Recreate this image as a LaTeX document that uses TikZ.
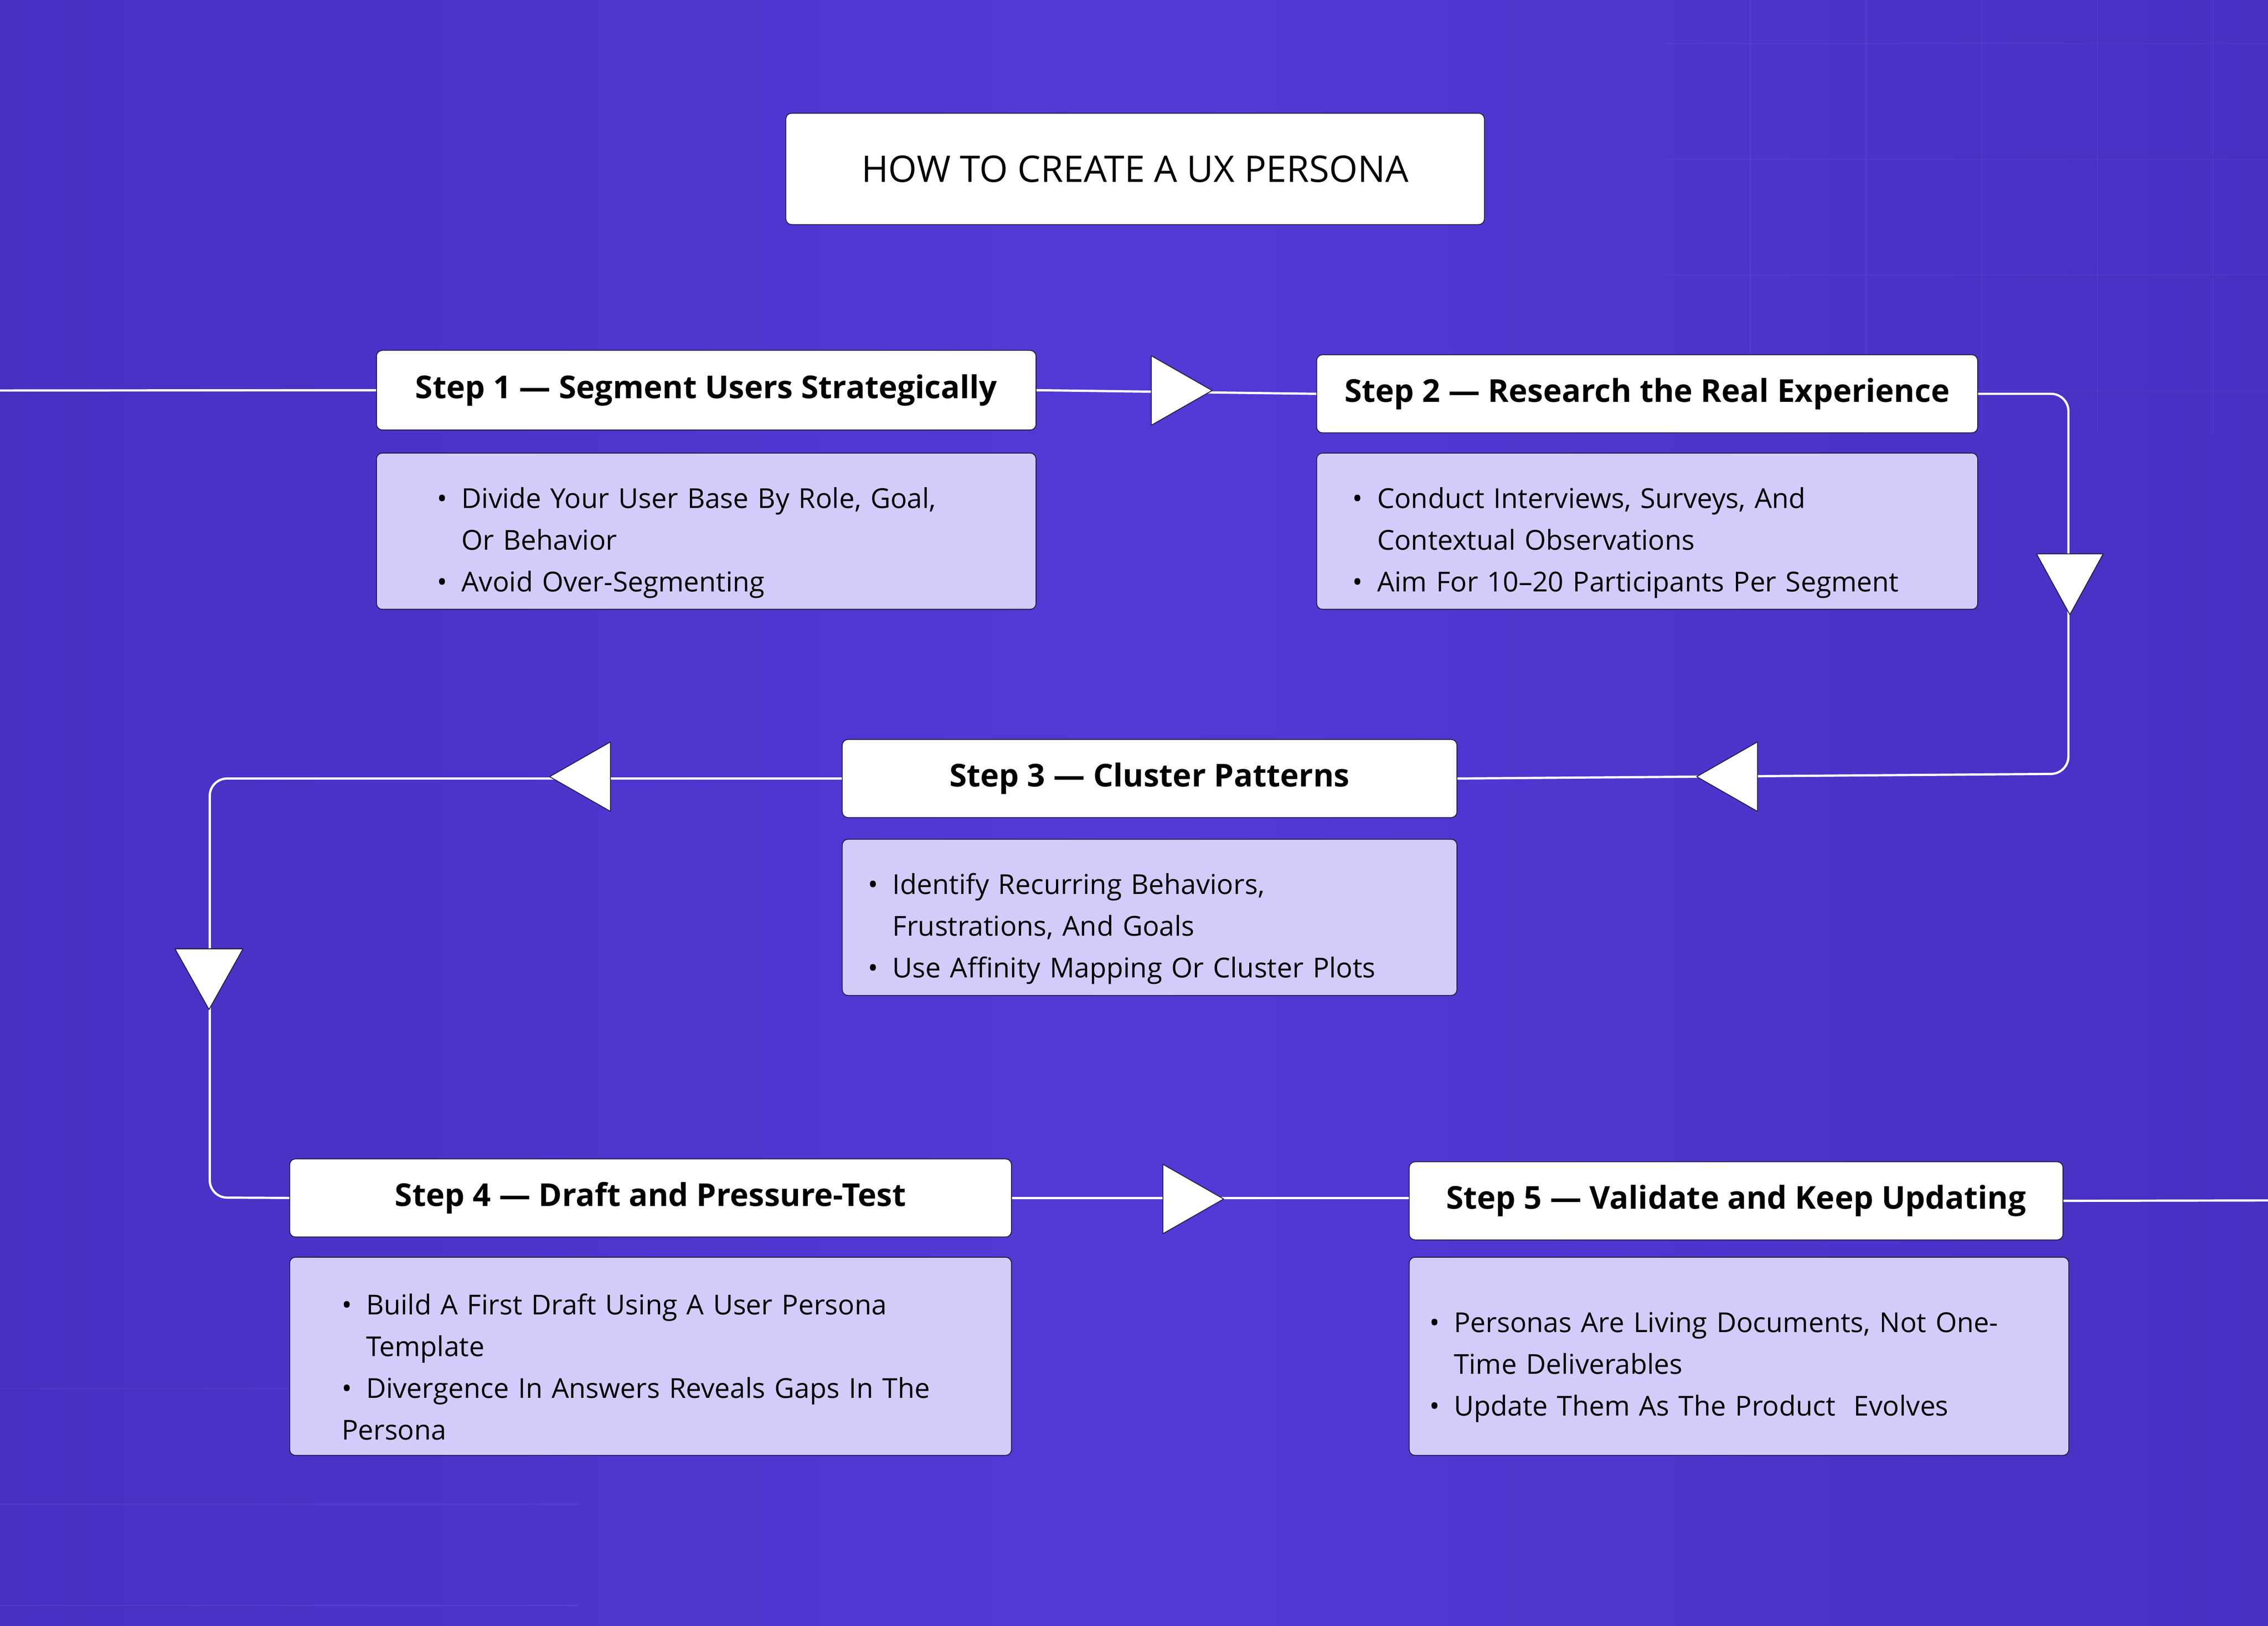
\documentclass[tikz,border=0pt]{standalone}
\usepackage{fontspec}
\setmainfont{Open Sans}
\usetikzlibrary{shapes.geometric}
\definecolor{bgA}{HTML}{4630C2}
\definecolor{bgB}{HTML}{5439D6}
\definecolor{lav}{HTML}{D2CCFB}
\definecolor{edge}{HTML}{1E1A3A}
\newcommand{\bitem}[1]{\par\hangindent=0.85cm\hangafter=1\noindent\makebox[0.85cm][l]{\textbullet}#1}
\tikzset{
  x=0.05cm,y=-0.05cm,
  hdr/.style={draw=edge,line width=0.8pt,fill=white,rounded corners=0.2cm,anchor=north west,inner sep=0pt,font=\fontsize{31}{36}\selectfont\bfseries},
  bdy/.style={draw=edge,line width=0.8pt,fill=lav,rounded corners=0.2cm,anchor=north west,inner sep=0pt},
  btxt/.style={anchor=west,inner sep=0pt,align=left,font=\fontsize{27}{41}\selectfont},
  conn/.style={draw=white,line width=2.2pt,rounded corners=0.6cm},
  tri/.style={fill=white,draw=edge,line width=0.8pt,line join=round}
}
\begin{document}
\begin{tikzpicture}
\useasboundingbox (0,0) rectangle (1568,1124);
\shade[left color=bgA,right color=bgA,middle color=bgB] (0,0) rectangle (1568,1124);
\foreach \x in {1210,1290,1370,1450,1530}{\draw[white,opacity=0.05,line width=1pt] (\x,0)--(\x,300);}
\foreach \y in {30,110,190,270}{\draw[white,opacity=0.05,line width=1pt] (1150,\y)--(1568,\y);}
\foreach \y in {960,1040,1110}{\draw[white,opacity=0.05,line width=1pt] (0,\y)--(400,\y);}
% title
\node[hdr,minimum width=24.15cm,minimum height=3.85cm,font=\fontsize{36}{40}\selectfont] (title) at (543,78) {HOW TO CREATE A UX PERSONA};
% headers
\node[hdr,minimum width=22.8cm,minimum height=2.75cm] (h1) at (260,242) {Step 1 — Segment Users Strategically};
\node[hdr,minimum width=22.85cm,minimum height=2.7cm] (h2) at (910,245) {Step 2 — Research the Real Experience};
\node[hdr,minimum width=21.25cm,minimum height=2.7cm] (h3) at (582,511) {Step 3 — Cluster Patterns};
\node[hdr,minimum width=24.95cm,minimum height=2.7cm] (h4) at (200,801) {Step 4 — Draft and Pressure-Test};
\node[hdr,minimum width=22.6cm,minimum height=2.7cm] (h5) at (974,803) {Step 5 — Validate and Keep Updating};
% bodies
\node[bdy,minimum width=22.8cm,minimum height=5.4cm] (b1) at (260,313) {};
\node[bdy,minimum width=22.85cm,minimum height=5.4cm] (b2) at (910,313) {};
\node[bdy,minimum width=21.25cm,minimum height=5.4cm] (b3) at (582,580) {};
\node[bdy,minimum width=24.95cm,minimum height=6.85cm] (b4) at (200,869) {};
\node[bdy,minimum width=22.8cm,minimum height=6.85cm] (b5) at (974,869) {};
\node[btxt,text width=20cm] (t1) at (302,368) {\bitem{Divide Your User Base By Role, Goal,\newline Or Behavior}\bitem{Avoid Over-Segmenting}};
\node[btxt,text width=21cm] (t2) at (935,368) {\bitem{Conduct Interviews, Surveys, And\newline Contextual Observations}\bitem{Aim For 10–20 Participants Per Segment}};
\node[btxt,text width=20cm] (t3) at (600,635) {\bitem{Identify Recurring Behaviors,\newline Frustrations, And Goals}\bitem{Use Affinity Mapping Or Cluster Plots}};
\node[btxt,text width=23cm] (t4) at (236,938) {\bitem{Build A First Draft Using A User Persona\newline Template}\bitem{Divergence In Answers Reveals Gaps In The\newline Persona}};
\node[btxt,text width=22cm] (t5) at (988,938) {\bitem{Personas Are Living Documents, Not One-\newline Time Deliverables}\bitem{Update Them As The Product\ \ Evolves}};
% connectors
\coordinate (s0) at (0,270);
\coordinate (s6) at (1568,830);
\draw[conn] (s0) -- (h1.west);
\draw[conn] (h1.east) -- (h2.west);
\draw[conn] (h2.east) -| (1430,535) -- (h3.east);
\draw[conn] (h3.west) -| (145,828) -- (h4.west);
\draw[conn] (h4.east) -- (h5.west |- h4.east);
\draw[conn] (h5.east) -- (s6);
% triangles
\draw[tri] (796,246) -- (838,270) -- (796,294) -- cycle;
\draw[tri] (1408,383) -- (1454,383) -- (1431,425) -- cycle;
\draw[tri] (1215,513) -- (1173,537) -- (1215,561) -- cycle;
\draw[tri] (422,513) -- (380,537) -- (422,561) -- cycle;
\draw[tri] (121,656) -- (168,656) -- (144.5,698) -- cycle;
\draw[tri] (804,805) -- (846,829) -- (804,853) -- cycle;
\end{tikzpicture}
\end{document}
